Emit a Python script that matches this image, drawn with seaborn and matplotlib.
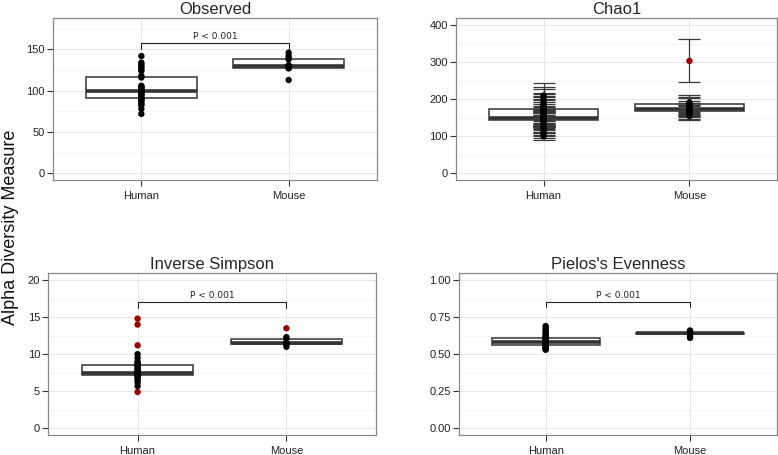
import numpy as np
import pandas as pd
import matplotlib
matplotlib.use("Agg")
import matplotlib.pyplot as plt
from matplotlib.ticker import MultipleLocator
import seaborn as sns

# ---- values ----
groups = ["Human", "Mouse"]

observed_human = [72, 78, 82, 84, 86, 88, 89, 90, 92, 94, 95, 96, 97, 98, 99, 100,
                  101, 102, 103, 104, 105, 106, 116, 118, 124, 126, 128, 130, 132, 134, 142]
observed_mouse = [113, 127, 128, 128, 129, 130, 130, 131, 138, 139, 142, 146]

chao1_human = [100, 108, 115, 120, 125, 130, 136, 142, 144, 146, 147, 148, 149, 149, 150, 150,
               151, 152, 155, 158, 162, 168, 172, 174, 178, 182, 185, 188, 195, 200, 210]
chao1_human_se = [10, 12, 14, 15, 16, 18, 18, 20, 20, 20, 20, 20, 20, 20, 22, 22,
                  22, 22, 24, 24, 25, 25, 26, 26, 28, 28, 30, 30, 32, 33, 35]
chao1_mouse = [155, 160, 165, 168, 170, 172, 175, 176, 180, 187, 188, 192, 304]
chao1_mouse_se = [12, 13, 12, 14, 15, 14, 16, 15, 16, 18, 18, 20, 58]
chao1_red = {"Human": [], "Mouse": [304]}

invsimpson_human = [4.9, 5.7, 6.2, 6.5, 6.8, 7.0, 7.1, 7.2, 7.2, 7.3, 7.3, 7.4, 7.4, 7.5, 7.5, 7.5,
                    7.6, 7.7, 7.8, 8.0, 8.2, 8.4, 8.5, 8.6, 8.8, 9.0, 9.5, 10.0, 11.2, 14.0, 14.8]
invsimpson_mouse = [11.0, 11.3, 11.4, 11.5, 11.5, 11.6, 12.1, 12.3, 13.5]
invsimpson_red = {"Human": [4.9, 11.2, 14.0, 14.8], "Mouse": [13.5]}

pielou_human = [0.53, 0.535, 0.54, 0.545, 0.55, 0.552, 0.555, 0.558, 0.562, 0.565, 0.57,
                0.575, 0.578, 0.58, 0.583, 0.585, 0.588, 0.59, 0.595, 0.6, 0.603, 0.606,
                0.608, 0.612, 0.62, 0.63, 0.64, 0.65, 0.66, 0.675, 0.69]
pielou_mouse = [0.61, 0.62, 0.635, 0.638, 0.64, 0.641, 0.643, 0.645, 0.655, 0.66]

p_label = "P < 0.001"


def long_df(human, mouse, red):
    df = pd.DataFrame({
        "group": ["Human"] * len(human) + ["Mouse"] * len(mouse),
        "value": list(human) + list(mouse),
    })
    df["flag"] = [("out" if v in red.get(g, []) else "in") for g, v in zip(df["group"], df["value"])]
    return df


sns.set_theme(style="white")
plt.rcParams["font.family"] = ["Liberation Sans", "DejaVu Sans"]

fig = plt.figure(figsize=(7.78, 4.55), dpi=100)

panels = [
    # title, df, ylim, major step, tick fmt, bracket, axes rect, errors
    ("Observed", long_df(observed_human, observed_mouse, {}), (-8, 188), 50, "{:.0f}",
     (151, 158), [0.0681, 0.6044, 0.4165, 0.356], None),
    ("Chao1", long_df(chao1_human, chao1_mouse, chao1_red), (-18, 420), 100, "{:.0f}",
     None, [0.5861, 0.6044, 0.4126, 0.356], (chao1_human_se, chao1_mouse_se)),
    ("Inverse Simpson", long_df(invsimpson_human, invsimpson_mouse, invsimpson_red), (-0.9, 21), 5, "{:.0f}",
     (16.3, 17.0), [0.0621, 0.044, 0.4208, 0.3567], None),
    ("Pielos's Evenness", long_df(pielou_human, pielou_mouse, {}), (-0.045, 1.05), 0.25, "{:.2f}",
     (0.82, 0.85), [0.59, 0.044, 0.4083, 0.3567], None),
]

edge = "#333333"
for title, df, ylim, major, fmt, bracket, rect, errs in panels:
    ax = fig.add_axes(rect)
    ax.set_facecolor("white")
    ax.set_axisbelow(True)

    sns.boxplot(data=df, x="group", y="value", order=groups, ax=ax, width=0.75,
                color="white", linecolor=edge, linewidth=1.1, whis=0,
                showcaps=False, showfliers=False,
                whiskerprops={"linewidth": 0},
                medianprops={"linewidth": 2.6, "color": edge})

    # Chao1 gets per-sample error bars
    if errs is not None:
        for i, g in enumerate(groups):
            sub = df[df["group"] == g]
            ax.errorbar(np.full(len(sub), i), sub["value"], yerr=errs[i], fmt="none",
                        ecolor="#3a3a3a", elinewidth=0.9, capsize=8, capthick=0.9, zorder=3)

    sns.stripplot(data=df, x="group", y="value", order=groups, hue="flag",
                  hue_order=["in", "out"], palette={"in": "black", "out": "#9b0000"},
                  jitter=False, size=4.6, ax=ax, legend=False, zorder=4)

    if bracket is not None:
        lo, hi = bracket
        ax.plot([0, 0, 1, 1], [lo, hi, hi, lo], color="#222222", lw=0.8)
        ax.text(0.5, hi + (ylim[1] - ylim[0]) * 0.012, p_label, ha="center", va="bottom",
                fontsize=6.5, family="DejaVu Sans", color="#222222")

    ax.set_xlim(-0.6, 1.6)
    ax.set_ylim(*ylim)
    ax.yaxis.set_major_locator(MultipleLocator(major))
    ax.yaxis.set_minor_locator(MultipleLocator(major / 2))
    ax.set_yticks([t for t in ax.get_yticks() if ylim[0] <= t <= ylim[1]])
    ax.set_yticklabels([fmt.format(t) for t in ax.get_yticks()])
    ax.grid(True, which="major", color="#e6e6e6", lw=0.7)
    ax.grid(True, which="minor", axis="y", color="#f2f2f2", lw=0.5)
    ax.tick_params(axis="both", which="major", direction="out", length=4, width=0.8,
                   color="#333333", labelsize=8, labelcolor="#222222", pad=2,
                   bottom=True, left=True)
    ax.tick_params(axis="x", which="major", pad=4)
    ax.tick_params(axis="y", which="minor", length=0)
    for s in ax.spines.values():
        s.set_color("#888888")
        s.set_linewidth(0.9)
    ax.set_xlabel("")
    ax.set_ylabel("")
    ax.set_title(title, fontsize=12, pad=3)

fig.text(0.013, 0.5, "Alpha Diversity Measure", rotation=90, ha="center", va="center",
         fontsize=13, color="#111111")

fig.savefig("out.png", dpi=100)
